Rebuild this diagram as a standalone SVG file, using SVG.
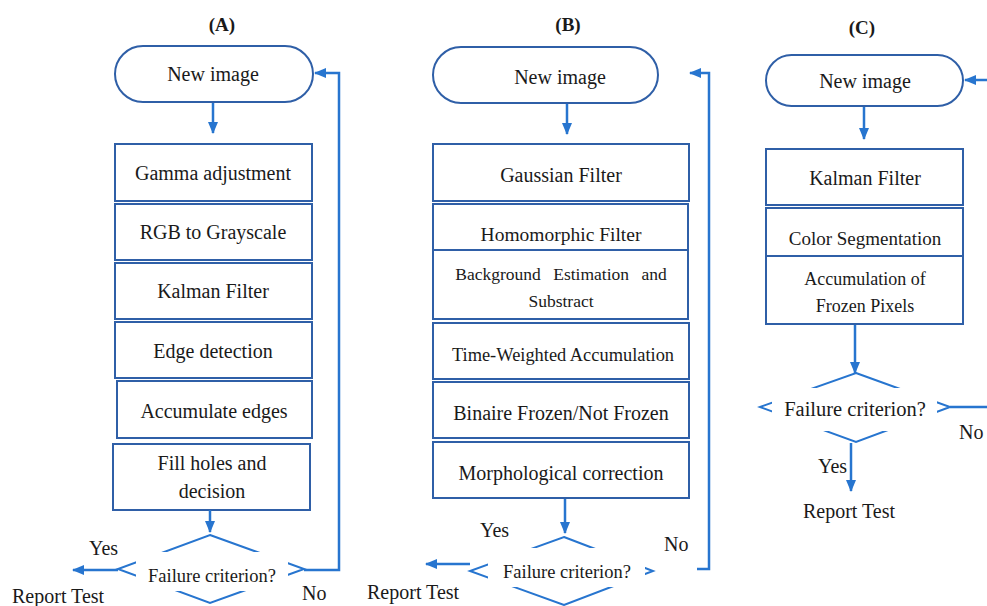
<svg xmlns="http://www.w3.org/2000/svg" width="987" height="606" viewBox="0 0 987 606">
<style>
text{font-family:"Liberation Serif","Times New Roman",serif;fill:#1a1a1a;font-size:20px}
.t{font-weight:bold;font-size:19px;text-anchor:middle}
.c{text-anchor:middle}
.box{fill:#fff;stroke:#2F5FA7;stroke-width:2}
.dia{fill:none;stroke:#2775CF;stroke-width:2}
.gap{fill:#fff;stroke:none}
.con{fill:none;stroke:#2775CF;stroke-width:2.5}
</style>
<defs>
<marker id="ah" markerWidth="12" markerHeight="10" refX="11" refY="5" orient="auto" markerUnits="userSpaceOnUse">
<path d="M0,0 L12,5 L0,10 z" fill="#2775CF"/>
</marker>
</defs>
<rect width="987" height="606" fill="#fff"/>

<!-- Titles -->
<text class="t" x="222" y="31">(A)</text>
<text class="t" x="568" y="31">(B)</text>
<text class="t" x="862" y="34">(C)</text>

<!-- Panel A -->
<g id="a-new"><rect class="box" x="115" y="46" width="198" height="56" rx="28"/><text class="c" x="213" y="81">New image</text></g>
<g id="a-gamma"><rect class="box" x="115" y="144" width="197" height="57"/><text class="c" x="213" y="180">Gamma adjustment</text></g>
<g id="a-rgb"><rect class="box" x="115" y="204" width="197" height="56"/><text class="c" x="213" y="239">RGB to Grayscale</text></g>
<g id="a-kalman"><rect class="box" x="115" y="263" width="197" height="56"/><text class="c" x="213" y="298">Kalman Filter</text></g>
<g id="a-edge"><rect class="box" x="115" y="322" width="197" height="56"/><text class="c" x="213" y="358">Edge detection</text></g>
<g id="a-accum"><rect class="box" x="117" y="381" width="195" height="57"/><text class="c" x="214" y="418">Accumulate edges</text></g>
<g id="a-fill"><rect class="box" x="113" y="444" width="197" height="66"/><text class="c" x="212" y="470">Fill holes and</text><text class="c" x="212" y="498">decision</text></g>
<g id="a-dec"><polygon class="dia" points="210,535 304,569 210,603 118,569"/><rect class="gap" x="136" y="552" width="152" height="39"/><text class="c" x="212" y="582" style="font-size:18.5px">Failure criterion?</text></g>
<g id="a-labels"><text x="89" y="555">Yes</text><text x="302" y="600">No</text></g>
<g id="a-report"><text x="12" y="603">Report Test</text></g>

<!-- Panel B -->
<g id="b-new"><rect class="box" x="433" y="47" width="225" height="56" rx="28"/><text class="c" x="560" y="84">New image</text></g>
<g id="b-gauss"><rect class="box" x="433" y="144" width="256" height="57"/><text class="c" x="561" y="182">Gaussian Filter</text></g>
<g id="b-homo"><rect class="box" x="433" y="204" width="255" height="46"/><text class="c" x="561" y="241" style="font-size:19.5px">Homomorphic Filter</text></g>
<g id="b-back"><rect class="box" x="433" y="250" width="255" height="69"/><text class="c" x="561" y="280" style="font-size:17.5px" word-spacing="8">Background Estimation and</text><text class="c" x="561" y="307" style="font-size:17.5px">Substract</text></g>
<g id="b-time"><rect class="box" x="433" y="323" width="256" height="56"/><text class="c" x="563" y="361" style="font-size:18.4px">Time-Weighted Accumulation</text></g>
<g id="b-bin"><rect class="box" x="433" y="382" width="256" height="56"/><text class="c" x="561" y="420">Binaire Frozen/Not Frozen</text></g>
<g id="b-morph"><rect class="box" x="433" y="442" width="256" height="56"/><text class="c" x="561" y="480">Morphological correction</text></g>
<g id="b-dec"><polygon class="dia" points="564,537 653,571 564,605 470,571"/><rect class="gap" x="488" y="548" width="157" height="39"/><text class="c" x="567" y="578" style="font-size:18.5px">Failure criterion?</text></g>
<g id="b-labels"><text x="480" y="537">Yes</text><text x="664" y="551">No</text></g>
<g id="b-report"><text x="367" y="599">Report Test</text></g>

<!-- Panel C -->
<g id="c-new"><rect class="box" x="766" y="55" width="197" height="51" rx="25.5"/><text class="c" x="865" y="88">New image</text></g>
<g id="c-kalman"><rect class="box" x="766" y="149" width="197" height="56"/><text class="c" x="865" y="185">Kalman Filter</text></g>
<g id="c-color"><rect class="box" x="766" y="208" width="197" height="48"/><text class="c" x="865" y="245" style="font-size:19px">Color Segmentation</text></g>
<g id="c-accum"><rect class="box" x="766" y="256" width="197" height="68"/><text class="c" x="865" y="285" style="font-size:18px">Accumulation of</text><text class="c" x="865" y="312" style="font-size:18px">Frozen Pixels</text></g>
<g id="c-dec"><polygon class="dia" points="856,373 950,407 856,442 760,407"/><rect class="gap" x="772" y="388" width="165" height="43"/><text class="c" x="855" y="416" style="font-size:20.5px">Failure criterion?</text></g>
<g id="c-labels"><text x="818" y="473">Yes</text><text x="959" y="439">No</text></g>
<g id="c-report"><text class="c" x="849" y="518">Report Test</text></g>

<!-- Connectors -->
<g id="connectors">
<line class="con" x1="213" y1="103" x2="213" y2="133" marker-end="url(#ah)"/>
<line class="con" x1="210" y1="510" x2="210" y2="532" marker-end="url(#ah)"/>
<line class="con" x1="118" y1="570" x2="73" y2="570" marker-end="url(#ah)"/>
<polyline class="con" points="304,570 339,570 339,73 315,73" marker-end="url(#ah)"/>

<line class="con" x1="567" y1="104" x2="567" y2="134" marker-end="url(#ah)"/>
<line class="con" x1="565" y1="499" x2="565" y2="533" marker-end="url(#ah)"/>
<line class="con" x1="470" y1="564" x2="426" y2="564" marker-end="url(#ah)"/>
<polyline class="con" points="697,569 709,569 709,73 690,73" marker-end="url(#ah)"/>

<line class="con" x1="864" y1="107" x2="864" y2="139" marker-end="url(#ah)"/>
<line class="con" x1="855" y1="325" x2="855" y2="373" marker-end="url(#ah)"/>
<line class="con" x1="851" y1="443" x2="851" y2="491" marker-end="url(#ah)"/>
<line class="con" x1="950" y1="407" x2="990" y2="407"/>
<line class="con" x1="990" y1="80" x2="965" y2="80" marker-end="url(#ah)"/>
</g>
</svg>
